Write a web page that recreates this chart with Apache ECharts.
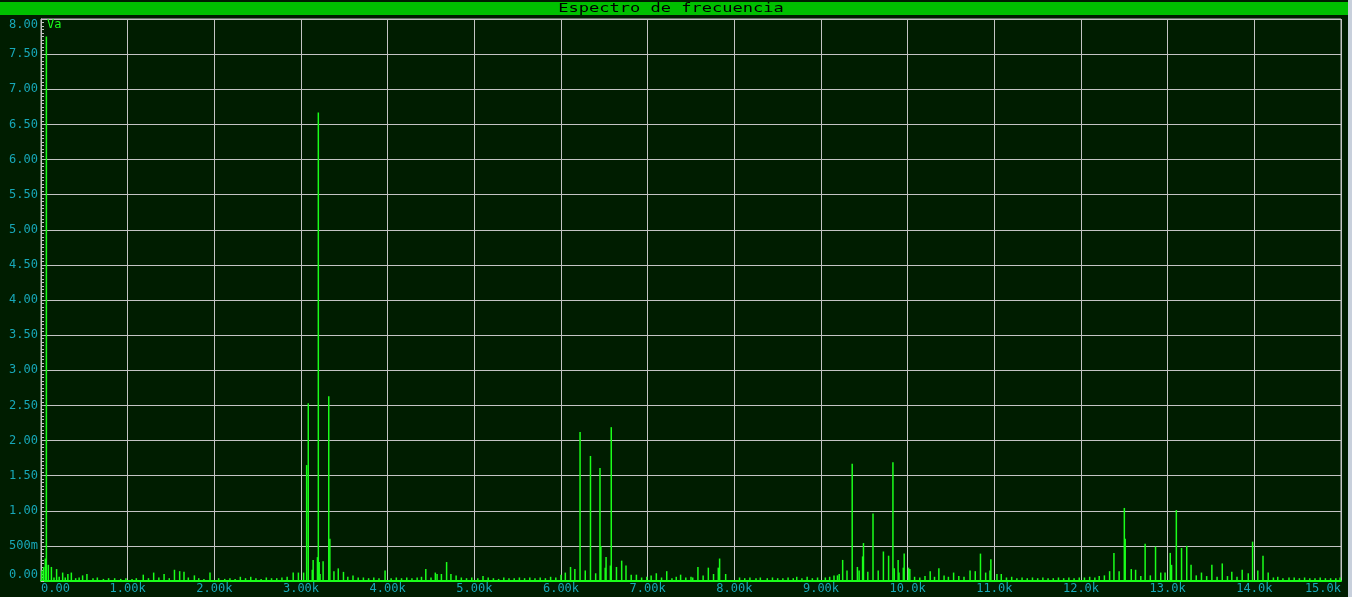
<!DOCTYPE html>
<html><head><meta charset="utf-8">
<script src="https://cdn.jsdelivr.net/npm/echarts@6/dist/echarts.min.js"></script>
<style>html,body{margin:0;padding:0;background:#001d00;}#c{width:1352px;height:597px;}</style>
</head><body><div id="c"></div>
<script>
// Frequency ticks (Hz) and amplitude ticks (V)
const xTickValues = [0,1000,2000,3000,4000,5000,6000,7000,8000,9000,10000,11000,12000,13000,14000,15000];
const xTickLabels = ['0.00','1.00k','2.00k','3.00k','4.00k','5.00k','6.00k','7.00k','8.00k','9.00k','10.0k','11.0k','12.0k','13.0k','14.0k','15.0k'];
const yTickLabels = {0:'0.00',0.5:'500m',1:'1.00',1.5:'1.50',2:'2.00',2.5:'2.50',3:'3.00',3.5:'3.50',4:'4.00',4.5:'4.50',5:'5.00',5.5:'5.50',6:'6.00',6.5:'6.50',7:'7.00',7.5:'7.50',8:'8.00'};

// Spectral lines (Hz, V)
const peakFreqs = [50,62,85,120,180,250,310,350,480,530,1180,1300,1420,1540,1600,1650,1770,1950,2300,2420,2910,2970,3030,3065,3084,3130,3140,3190,3200,3210,3220,3255,3320,3333,3380,3430,3490,3600,3720,3970,4440,4550,4570,4620,4680,4730,4790,5100,6000,6050,6110,6160,6220,6280,6340,6400,6450,6460,6510,6520,6570,6580,6640,6700,6750,6810,6870,7040,7100,7220,7380,7580,7640,7700,7760,7815,7830,7900,9190,9210,9250,9300,9360,9420,9440,9480,9490,9540,9600,9660,9720,9780,9830,9845,9890,9900,9950,9960,10010,10025,10260,10360,10530,10720,10780,10840,10900,10950,10960,11030,11080,12100,12210,12270,12330,12380,12440,12500,12510,12580,12630,12740,12860,12920,12970,13030,13045,13100,13160,13220,13270,13390,13510,13630,13740,13860,13930,13980,14040,14100,14160,14270,14400];
const peakAmps  = [0.32,7.75,0.23,0.2,0.17,0.12,0.1,0.12,0.08,0.1,0.09,0.12,0.1,0.16,0.14,0.13,0.08,0.12,0.06,0.06,0.12,0.12,0.12,1.65,2.53,0.16,0.3,0.34,6.67,0.27,0.1,0.28,2.63,0.6,0.14,0.18,0.13,0.08,0.05,0.15,0.17,0.12,0.1,0.1,0.27,0.1,0.08,0.07,0.09,0.12,0.2,0.17,2.12,0.15,1.78,0.11,1.61,0.5,0.19,0.34,0.22,2.19,0.2,0.29,0.22,0.09,0.09,0.08,0.11,0.14,0.09,0.2,0.08,0.19,0.1,0.19,0.32,0.1,0.08,0.1,0.3,0.15,1.67,0.2,0.15,0.35,0.54,0.13,0.96,0.15,0.42,0.36,1.69,0.18,0.3,0.12,0.19,0.39,0.19,0.17,0.14,0.18,0.12,0.15,0.14,0.39,0.12,0.15,0.31,0.1,0.1,0.06,0.07,0.08,0.14,0.4,0.14,1.04,0.6,0.17,0.16,0.53,0.49,0.12,0.12,0.4,0.23,1.01,0.47,0.5,0.23,0.12,0.23,0.25,0.13,0.16,0.11,0.56,0.15,0.36,0.12,0.06,0.05];

// Low-level floor lines (Hz, V)
const floorFreqs = [10,30,150,210,280,400,440,600,650,720,780,850,920,980,1050,1100,1240,1360,1480,1700,1820,1880,2050,2120,2180,2240,2360,2480,2540,2600,2660,2720,2780,2840,3540,3660,3780,3840,3900,4040,4100,4160,4220,4280,4340,4390,4500,4850,4910,4970,5040,5160,5220,5280,5340,5400,5460,5520,5580,5640,5700,5760,5820,5880,5940,6930,6990,7160,7280,7330,7440,7500,7520,8060,8120,8180,8250,8300,8380,8440,8500,8560,8620,8680,8720,8780,8840,8900,8960,9050,9100,9150,10080,10140,10200,10310,10420,10470,10590,10650,11140,11200,11260,11320,11380,11440,11500,11560,11620,11680,11740,11800,11860,11920,11980,12040,12160,12690,12800,13330,13450,13570,13690,13800,14220,14330,14460,14520,14580,14640,14700,14760,14820,14880,14940,14990];
const floorAmps  = [0.15,0.2,0.05,0.06,0.05,0.04,0.05,0.04,0.05,0.03,0.04,0.04,0.03,0.04,0.03,0.04,0.04,0.05,0.04,0.05,0.04,0.03,0.04,0.03,0.04,0.03,0.04,0.04,0.03,0.05,0.04,0.04,0.05,0.06,0.06,0.05,0.04,0.05,0.04,0.04,0.05,0.04,0.05,0.04,0.05,0.06,0.05,0.05,0.04,0.05,0.04,0.05,0.04,0.03,0.05,0.04,0.04,0.05,0.04,0.05,0.04,0.05,0.04,0.06,0.05,0.05,0.06,0.05,0.04,0.06,0.05,0.06,0.05,0.05,0.04,0.05,0.04,0.05,0.04,0.05,0.04,0.04,0.05,0.04,0.06,0.04,0.06,0.04,0.05,0.05,0.06,0.08,0.06,0.05,0.07,0.06,0.08,0.06,0.07,0.06,0.05,0.06,0.04,0.05,0.04,0.05,0.04,0.05,0.04,0.04,0.05,0.04,0.05,0.04,0.05,0.05,0.05,0.07,0.08,0.08,0.07,0.06,0.07,0.06,0.05,0.04,0.05,0.04,0.05,0.04,0.04,0.05,0.04,0.04,0.04,0.05];

const titleText = 'Espectro de frecuencia';
const unitText = 'Va';

const lines = [];
floorFreqs.forEach((f, i) => lines.push([f, floorAmps[i]]));
peakFreqs.forEach((f, i) => lines.push([f, peakAmps[i]]));

const chart = echarts.init(document.getElementById('c'), null, {renderer: 'canvas'});
const mono = 'DejaVu Sans Mono';
const labelColor = '#17a8b8';
const gridColor = '#c4c4c4';

chart.setOption({
  backgroundColor: '#001d00',
  animation: false,
  grid: {left: 41, right: 11, top: 19, bottom: 16, show: true, borderColor: gridColor, borderWidth: 1},
  xAxis: {
    type: 'value', min: 0, max: 15000, interval: 1000,
    axisLine: {show: true, onZero: true, lineStyle: {color: '#1aff1a', width: 2}},
    axisTick: {show: false},
    splitLine: {show: true, lineStyle: {color: gridColor, width: 1}},
    axisLabel: {
      color: labelColor, fontFamily: mono, fontSize: 12, margin: 2,
      alignMinLabel: 'left', alignMaxLabel: 'right',
      formatter: v => { const i = xTickValues.indexOf(v); return i >= 0 ? xTickLabels[i] : ''; }
    }
  },
  yAxis: {
    type: 'value', min: 0, max: 8, interval: 0.5,
    axisLine: {show: true, lineStyle: {color: gridColor, width: 1}},
    axisTick: {show: true, inside: true, length: 3, lineStyle: {color: gridColor}},
    minorTick: {show: true, splitNumber: 10, length: 3, lineStyle: {color: gridColor}},
    splitLine: {show: true, lineStyle: {color: gridColor, width: 1}},
    axisLabel: {
      color: labelColor, fontFamily: mono, fontSize: 12, margin: 3,
      verticalAlignMinLabel: 'bottom', verticalAlignMaxLabel: 'top',
      formatter: v => yTickLabels[v] !== undefined ? yTickLabels[v] : ''
    }
  },
  series: [{
    type: 'bar', data: lines, barWidth: 1.5, barGap: '-100%',
    itemStyle: {color: '#1aff1a'}, silent: true
  }],
  graphic: [
    {type: 'rect', left: 0, top: 2, shape: {width: 1348, height: 13}, style: {fill: '#00c000'}, z: 10},
    {type: 'rect', left: 1348, top: 0, shape: {width: 4, height: 597}, style: {fill: '#c8d0dc'}, z: 10},
    {type: 'text', x: 671, y: 9, scaleX: 1.42, scaleY: 1, z: 11,
      style: {text: titleText, fill: '#000000', font: '12px "DejaVu Sans Mono"', textAlign: 'center', textVerticalAlign: 'middle'}},
    {type: 'text', x: 47, y: 19, z: 11,
      style: {text: unitText, fill: '#1aff1a', font: '12px "DejaVu Sans Mono"', textAlign: 'left', textVerticalAlign: 'top'}}
  ]
});
</script></body></html>
